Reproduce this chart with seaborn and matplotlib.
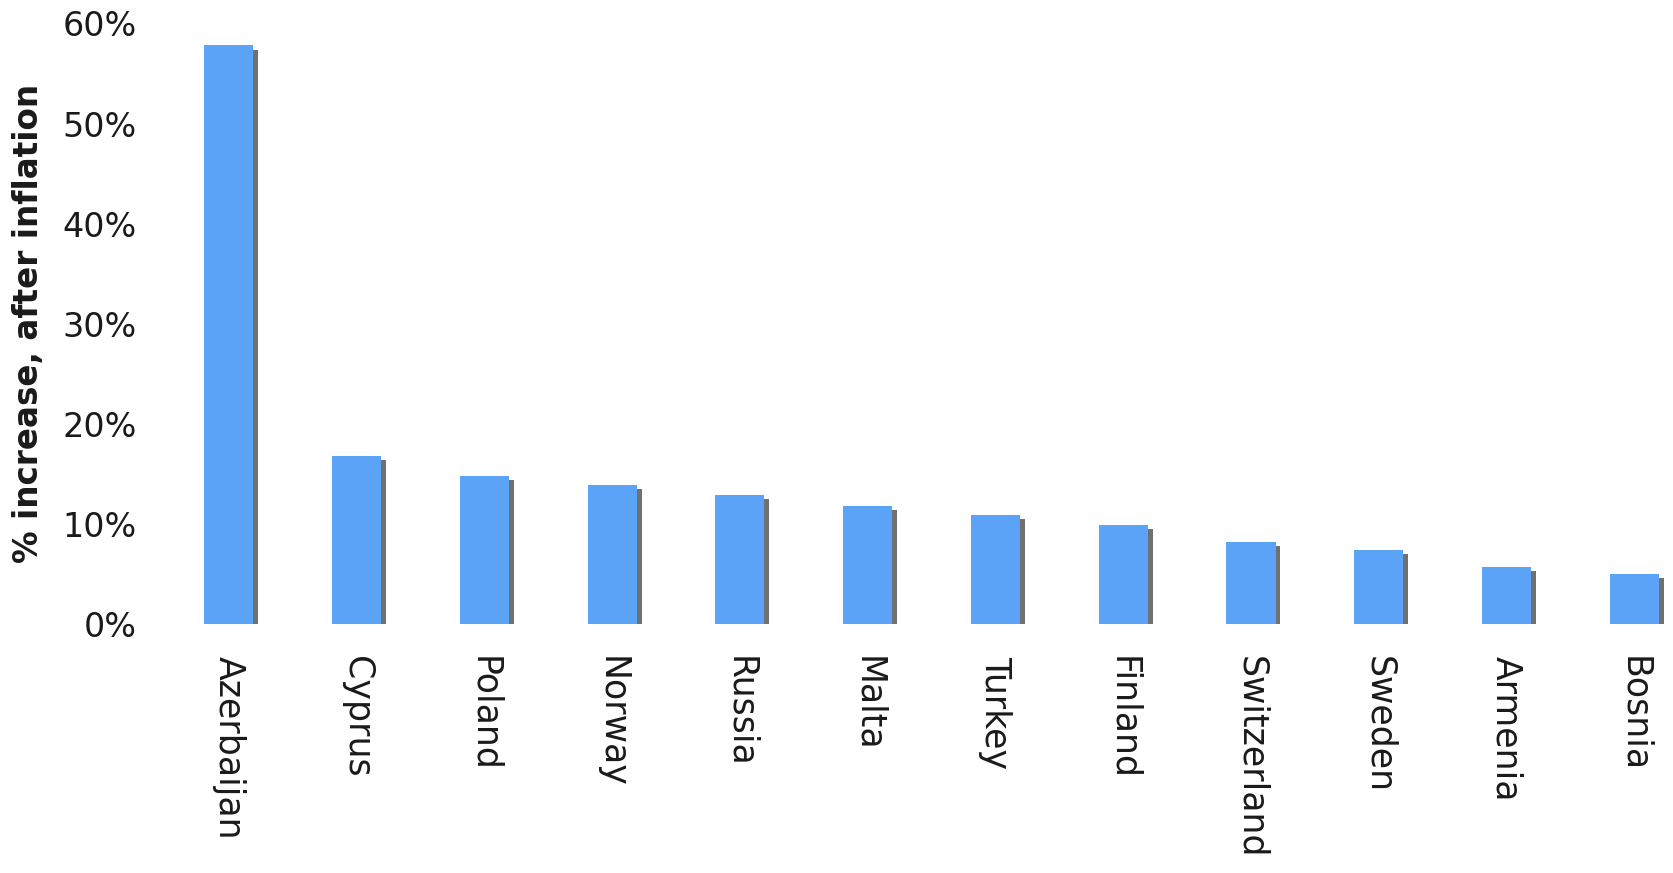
import matplotlib
matplotlib.use("Agg")
import matplotlib.pyplot as plt
import matplotlib.patheffects as pe
from matplotlib.ticker import PercentFormatter, MultipleLocator
import seaborn as sns
import pandas as pd

countries = ["Azerbaijan", "Cyprus", "Poland", "Norway", "Russia", "Malta",
             "Turkey", "Finland", "Switzerland", "Sweden", "Armenia", "Bosnia"]
increase_pct = [57.8, 16.8, 14.8, 13.9, 12.9, 11.8, 10.9, 9.9, 8.2, 7.4, 5.7, 5.0]
y_label = "% increase, after inflation"

df = pd.DataFrame({"country": countries, "pct": increase_pct})

sns.set_style("white")
plt.rcParams["font.family"] = ["DejaVu Sans"]

fig = plt.figure(figsize=(16.73, 8.73), dpi=100)
ax = fig.add_axes([0.110, 0.2852, 0.886, 0.688])

sns.barplot(data=df, x="country", y="pct", color="#5BA3F7", saturation=1,
            width=0.385, ax=ax)

for p in ax.patches:
    p.set_path_effects([pe.SimplePatchShadow(offset=(3.5, -3.0), shadow_rgbFace="#707070", alpha=1.0),
                        pe.Normal()])
    p.set_edgecolor("none")

ax.set_xlim(-0.35, 11.25)
ax.set_ylim(0, 60)
ax.yaxis.set_major_locator(MultipleLocator(10))
ax.yaxis.set_major_formatter(PercentFormatter(100, decimals=0))

for s in ax.spines.values():
    s.set_visible(False)

ax.tick_params(axis="y", length=0, pad=34, labelsize=24, labelcolor="#1a1a1a")
ax.tick_params(axis="x", length=0, pad=23, labelsize=25, labelcolor="#1a1a1a")
for lbl in ax.get_xticklabels():
    lbl.set_rotation(270)
    lbl.set_va("top")
    lbl.set_ha("center")

ax.set_xlabel("")
ax.set_ylabel(y_label, fontsize=23.5, fontweight="bold", color="#1a1a1a")
ax.yaxis.set_label_coords(-0.0937, 0.5)
ax.grid(False)

fig.savefig("out.png", dpi=100, facecolor="white")
